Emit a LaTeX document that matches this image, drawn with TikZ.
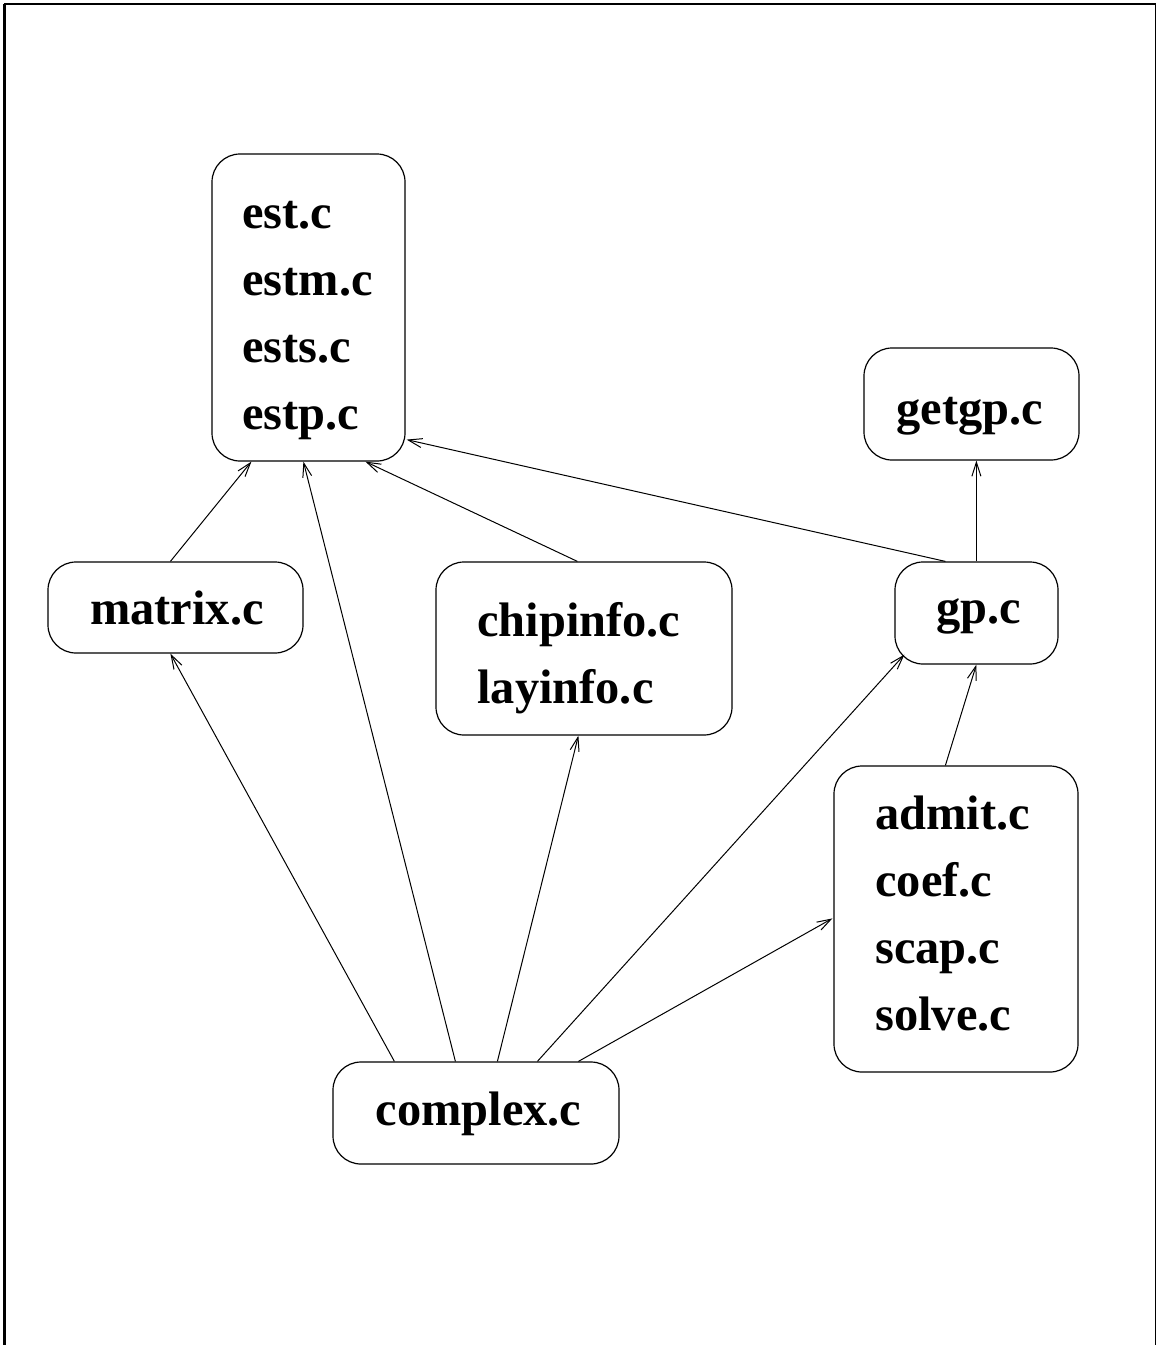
\documentclass[tikz,border=0pt]{standalone}
\usepackage{fontspec}
\setmainfont{Liberation Serif}
\usetikzlibrary{calc,arrows.meta}
\begin{document}
\begin{tikzpicture}[x=0.5pt,y=-0.5pt,
  box/.style={draw,line width=0.6pt,rounded corners=14pt,inner sep=0pt},
  lbl/.style={inner sep=0pt,font=\fontsize{24.2pt}{29pt}\selectfont\bfseries},
  dep/.style={line width=0.5pt,-{Straight Barb[length=7pt,width=4.5pt]}}]
\useasboundingbox (0,0) rectangle (1156,1345);
% page frame (open at the bottom)
\draw[line width=1.6pt] (4.5,1345) -- (4.5,4);
\draw[line width=1pt] (3.75,4) -- (1155.5,4);
\draw[line width=0.6pt] (1155.5,3.5) -- (1155.5,1345);

% module boxes
\node[box,minimum width=96.5pt,minimum height=153.5pt] (est) at (308.5,307.5) {};
\node[box,minimum width=107.5pt,minimum height=56pt] (getgp) at (971.5,404) {};
\node[box,minimum width=127.5pt,minimum height=45.5pt] (matrix) at (175.5,607.5) {};
\node[box,minimum width=148pt,minimum height=86.5pt] (chip) at (584,648.5) {};
\node[box,minimum width=81.5pt,minimum height=51pt] (gp) at (976.5,613) {};
\node[box,minimum width=122pt,minimum height=153pt] (admit) at (956,919) {};
\node[box,minimum width=143pt,minimum height=51pt] (complex) at (476,1113) {};

% file names
\node[lbl,anchor=base west] (t1) at (242,228) {est.c};
\node[lbl,anchor=base west] (t2) at (242,295) {estm.c};
\node[lbl,anchor=base west] (t3) at (242,362) {ests.c};
\node[lbl,anchor=base west] (t4) at (242,429) {estp.c};
\node[lbl,anchor=base] (t5) at (970,424) {getgp.c};
\node[lbl,anchor=base] (t6) at (177,624) {matrix.c};
\node[lbl,anchor=base west] (t7) at (477,636) {chipinfo.c};
\node[lbl,anchor=base west] (t8) at (477,703) {layinfo.c};
\node[lbl,anchor=base] (t9) at (979,623) {gp.c};
\node[lbl,anchor=base west] (t10) at (875,829) {admit.c};
\node[lbl,anchor=base west] (t11) at (875,896) {coef.c};
\node[lbl,anchor=base west] (t12) at (875,963) {scap.c};
\node[lbl,anchor=base west] (t13) at (875,1030) {solve.c};
\node[lbl,anchor=base] (t14) at (478.5,1125) {complex.c};

% dependencies
\draw[dep] ($(matrix.north west)+(123,0)$) -- ($(est.south west)+(40,0)$);
\draw[dep] ($(complex.north west)+(123,0)$) -- ($(est.south west)+(92,0)$);
\draw[dep] ($(chip.north west)+(142,0)$) -- ($(est.south west)+(154,0)$);
\draw[dep] ($(gp.north west)+(51,0)$) -- ($(est.south east)+(1,-22)$);
\draw[dep] ($(gp.north west)+(82,0)$) -- ($(getgp.south west)+(113,0)$);
\draw[dep] ($(complex.north west)+(62,0)$) -- ($(matrix.south west)+(123,0)$);
\draw[dep] ($(complex.north west)+(165,0)$) -- ($(chip.south west)+(143,0)$);
\draw[dep] ($(complex.north west)+(205,0)$) -- ($(gp.south west)+(10,-10)$);
\draw[dep] ($(complex.north west)+(246,0)$) -- ($(admit.north west)+(-1,153)$);
\draw[dep] ($(admit.north west)+(112,0)$) -- ($(gp.south west)+(82,0)$);
\end{tikzpicture}
\end{document}
